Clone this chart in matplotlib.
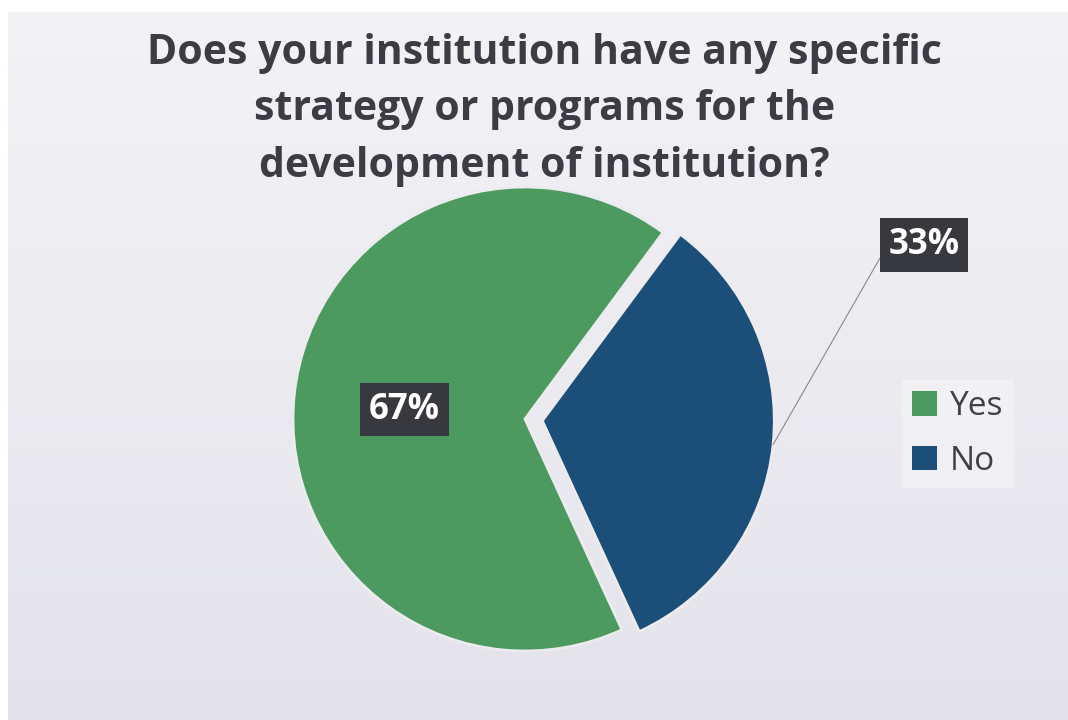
import numpy as np
import matplotlib
matplotlib.use("Agg")
import matplotlib.pyplot as plt
from matplotlib.patches import Patch
from matplotlib.colors import LinearSegmentedColormap

# Survey answers
categories = ["Yes", "No"]
shares = [67, 33]
colors = ["#4c9a5f", "#1c4e7a"]
title = "Does your institution have any specific\nstrategy or programs for the\ndevelopment of institution?"

W, H = 1068, 720
fig = plt.figure(figsize=(W / 100, H / 100), dpi=100, facecolor="white")

# Soft background panel: lighter at the top, faintly lavender-grey below
bg = fig.add_axes([8 / W, 0, 1 - 8 / W, 1 - 12 / H], zorder=-10)
grad = np.linspace(0, 1, 256).reshape(-1, 1)
cmap = LinearSegmentedColormap.from_list("panel", ["#f3f3f6", "#ebebf0", "#e4e3eb"])
bg.imshow(grad, aspect="auto", cmap=cmap, extent=[0, 1, 1, 0])
bg.axis("off")

# Pie axes: 580 px square, data limits +-1.25 so radius 1 = 232 px
cx, cy, side = 525, 419, 580
ax = fig.add_axes([(cx - side / 2) / W, (H - cy - side / 2) / H, side / W, side / H])
ax.set_facecolor("none")

explode = [0.0, 0.075]
wedges, _ = ax.pie(shares, colors=colors, startangle=53.5, counterclock=True,
                   explode=explode, radius=1.0,
                   wedgeprops=dict(edgecolor="#ececf0", linewidth=2))
ax.set_xlim(-1.25, 1.25)
ax.set_ylim(-1.25, 1.25)
ax.set_aspect("equal")
ax.axis("off")

box = dict(boxstyle="square,pad=0.25", fc="#38383f", ec="none")
txt_kw = dict(color="white", fontsize=25, fontweight="bold", family="Open Sans",
              ha="center", va="center")

# Yes label inside the slice
ax.text(-0.52, 0.04, f"{shares[0]}%", bbox=box, **txt_kw)

# No label outside, with a thin leader line from the slice's outer edge
w = wedges[1]
mid = np.deg2rad((w.theta1 + w.theta2) / 2)
ox, oy = w.center
edge = (ox + np.cos(mid), oy + np.sin(mid))
ax.annotate(f"{shares[1]}%", xy=edge, xytext=(1.72, 0.75), bbox=box,
            arrowprops=dict(arrowstyle="-", color="#8a8a8a", lw=0.8,
                            shrinkA=0, shrinkB=0, relpos=(0, 0.55)),
            annotation_clip=False, **txt_kw)

fig.text(0.51, 1 - 110 / H, title, ha="center", va="center", fontsize=29.5,
         fontweight="bold", family="Open Sans", color="#3c3c44",
         linespacing=1.5)

handles = [Patch(facecolor=c, edgecolor="none") for c in colors]
leg = fig.legend(handles, categories, loc="center left",
                 bbox_to_anchor=(885 / W, 1 - 434 / H), frameon=True,
                 prop=dict(family="Open Sans", size=24),
                 handlelength=0.75, handleheight=0.75, handletextpad=0.4,
                 labelspacing=0.65, borderpad=0.3, fancybox=False)
leg.get_frame().set_facecolor("#f3f3f5")
leg.get_frame().set_edgecolor("none")
for t in leg.get_texts():
    t.set_color("#404048")

fig.savefig("out.png", dpi=100, facecolor=fig.get_facecolor())
